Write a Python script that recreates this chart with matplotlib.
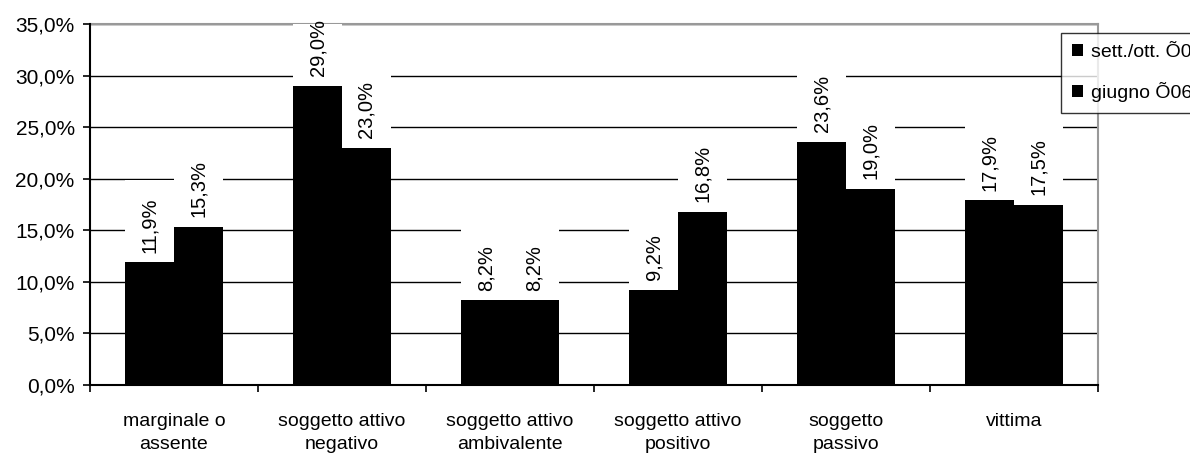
import numpy as np
import matplotlib.pyplot as plt
from matplotlib.ticker import FuncFormatter, FixedLocator

plt.rcParams['font.family'] = ['Liberation Sans', 'DejaVu Sans']

categories = ['marginale o\nassente', 'soggetto attivo\nnegativo',
              'soggetto attivo\nambivalente', 'soggetto attivo\npositivo',
              'soggetto\npassivo', 'vittima']
sett_ott = [11.9, 29.0, 8.2, 9.2, 23.6, 17.9]
giugno = [15.3, 23.0, 8.2, 16.8, 19.0, 17.5]
series_names = ['sett./ott. Õ05', 'giugno Õ06']

fig = plt.figure(figsize=(11.9, 4.57), dpi=100)
ax = fig.add_axes([90/1190, 1-385/457, (1098-90)/1190, (385-24)/457])

x = np.arange(len(categories)) + 0.5
w = 0.29

for vals, off, name in [(sett_ott, -w/2, series_names[0]), (giugno, w/2, series_names[1])]:
    # white boxes behind the value labels so they cut the gridlines
    ax.bar(x + off, [8.0]*len(vals), w, bottom=vals, color='white', zorder=1)
    ax.bar(x + off, vals, w, color='black', zorder=2, label=name)
    for xi, v in zip(x + off, vals):
        ax.annotate(f'{v:.1f}%'.replace('.', ','), (xi, v), xytext=(0, 7),
                    textcoords='offset points', rotation=90, ha='center',
                    va='bottom', fontsize=14.5, zorder=3)

ax.set_xlim(0, 6)
ax.set_ylim(0, 35)
ax.set_yticks(np.arange(0, 36, 5))
ax.yaxis.set_major_formatter(FuncFormatter(lambda v, p: f'{v:.1f}%'.replace('.', ',')))
ax.set_axisbelow(True)
ax.grid(axis='y', color='black', lw=1, zorder=0.5)

ax.set_xticks(x)
ax.set_xticklabels(categories, fontsize=14)
ax.tick_params(axis='x', which='major', length=0, pad=20)
ax.xaxis.set_minor_locator(FixedLocator(np.arange(0, 7)))
ax.tick_params(axis='x', which='minor', length=5, width=1.2, direction='out')
ax.tick_params(axis='y', labelsize=15, length=5, width=1.2, direction='out', pad=6)
for lab in ax.get_xticklabels():
    lab.set_linespacing(1.5)

for s in ['left', 'bottom']:
    ax.spines[s].set_linewidth(1.5)
for s in ['top', 'right']:
    ax.spines[s].set_color('#999999')
    ax.spines[s].set_linewidth(1.5)
ax.spines['top'].set_zorder(0.6)

leg = fig.legend(loc='upper left', bbox_to_anchor=(1061/1190, 1-33/457),
                 borderaxespad=0, fontsize=14, frameon=True, fancybox=False,
                 edgecolor='black', handlelength=0.6, handleheight=0.6,
                 handletextpad=0.4, labelspacing=1.1, borderpad=0.55)
leg.get_frame().set_linewidth(1)

plt.savefig('out.png', dpi=100)
